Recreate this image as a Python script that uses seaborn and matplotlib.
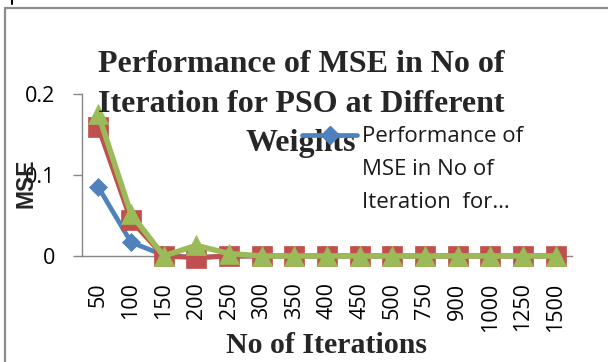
import numpy as np
import pandas as pd
import matplotlib
matplotlib.use("Agg")
import matplotlib.pyplot as plt
from matplotlib.lines import Line2D
from matplotlib.patches import Rectangle
import seaborn as sns

# Iteration counts on the category axis
iterations = ["50", "100", "150", "200", "250", "300", "350", "400", "450",
              "500", "750", "900", "1000", "1250", "1500"]

# MSE for the three inertia weights
mse_w1 = [0.085, 0.017, 0.001, -0.002, 0.0, 0.0, 0.0, 0.0, 0.0,
          0.0, 0.0, 0.0, 0.0, 0.0, 0.0]
mse_w2 = [0.159, 0.044, 0.0, -0.002, 0.0, 0.0, 0.0, 0.0, 0.0,
          0.0, 0.0, 0.0, 0.0, 0.0, 0.0]
mse_w3 = [0.175, 0.052, 0.0, 0.013, 0.003, 0.0, 0.0, 0.0, 0.0,
          0.0, 0.0, 0.0, 0.0, 0.0, 0.0]

y_ticks = [0, 0.1, 0.2]
y_tick_labels = ["0", "0.1", "0.2"]

legend_lines = ["Performance of", "MSE in No of", "Iteration  for\u2026"]
title_lines = ["Performance of MSE in No of",
               "Iteration for PSO at Different",
               "Weights"]

BLUE, RED, GREEN = "#4F81BD", "#C0504D", "#9BBB59"
AXIS_GREY = "#868686"

sns.set_style("white")
plt.rcParams["font.family"] = ["Open Sans", "DejaVu Sans"]

W, H = 608, 362
fig = plt.figure(figsize=(W / 100, H / 100), dpi=100)


def fx(px):
    return px / W


def fy(py):
    return 1 - py / H


ax = fig.add_axes([fx(82), fy(256), fx(572) - fx(82), fy(94) - fy(256)])

df = pd.DataFrame({
    "pos": np.tile(np.arange(len(iterations)), 3),
    "mse": mse_w1 + mse_w2 + mse_w3,
    "weight": ["w1"] * len(iterations) + ["w2"] * len(iterations)
              + ["w3"] * len(iterations),
})

styles = {
    "w1": dict(color=BLUE, marker="D", markersize=9.5, linewidth=3.4),
    "w2": dict(color=RED, marker="s", markersize=14, linewidth=3.6),
    "w3": dict(color=GREEN, marker="^", markersize=14.5, linewidth=4.0),
}
for z, (name, st) in enumerate(styles.items()):
    sub = df[df["weight"] == name]
    sns.lineplot(data=sub, x="pos", y="mse", ax=ax, color=st["color"],
                 marker=st["marker"], markersize=st["markersize"],
                 linewidth=st["linewidth"], markeredgecolor=st["color"],
                 markeredgewidth=0.5, clip_on=False, zorder=3 + z,
                 legend=False, sort=False)

ax.set_xlim(-0.5, len(iterations) - 0.5)
ax.set_ylim(0, 0.2)
ax.set_xticks(np.arange(len(iterations)))
ax.set_xticklabels(iterations, rotation=90, fontsize=15.5, color="black")
ax.set_yticks(y_ticks)
ax.set_yticklabels(y_tick_labels, fontsize=15.5, color="black")
ax.tick_params(axis="x", length=0, pad=19)
ax.tick_params(axis="y", length=6.5, width=1, color=AXIS_GREY, pad=13,
               direction="out", left=True)
ax.set_xlabel("")
ax.set_ylabel("")
for side in ("top", "right"):
    ax.spines[side].set_visible(False)
for side in ("left", "bottom"):
    ax.spines[side].set_color(AXIS_GREY)
    ax.spines[side].set_linewidth(1.0)
ax.patch.set_alpha(0)

# Outer chart frame
fig.add_artist(Rectangle((fx(5), fy(H + 20)), fx(W + 20), fy(8) - fy(H + 20),
                         transform=fig.transFigure, fill=False,
                         edgecolor="#8C8C8C", linewidth=1.6))
fig.add_artist(Line2D([fx(12), fx(12)], [fy(0), fy(4)],
                      transform=fig.transFigure, color="black", linewidth=1.5))

# Title
for text, base in zip(title_lines, [72, 112, 151]):
    fig.text(fx(301), fy(base), text, ha="center", va="baseline",
             fontsize=23, fontweight="bold", family="Liberation Serif",
             zorder=2)

# Axis titles
fig.text(fx(326), fy(353), "No of Iterations", ha="center", va="baseline",
         fontsize=21.5, fontweight="bold", family="Liberation Serif")
fig.text(fx(26), fy(183), "MSE", ha="center", va="center", rotation=90,
         fontsize=16.5, fontweight="bold", family="Liberation Sans")

# Legend entry for the first weight
fig.add_artist(Line2D([fx(302), fx(329.5), fx(357)], [fy(135)] * 3,
                      transform=fig.transFigure, color=BLUE, linewidth=3.4,
                      marker="D", markersize=9.5, markevery=[1],
                      markeredgecolor=BLUE, zorder=10))
for text, base in zip(legend_lines, [142, 175, 208]):
    fig.text(fx(362), fy(base), text, ha="left", va="baseline",
             fontsize=16, color="#1a1a1a", zorder=10)

fig.savefig("out.png", dpi=100)
